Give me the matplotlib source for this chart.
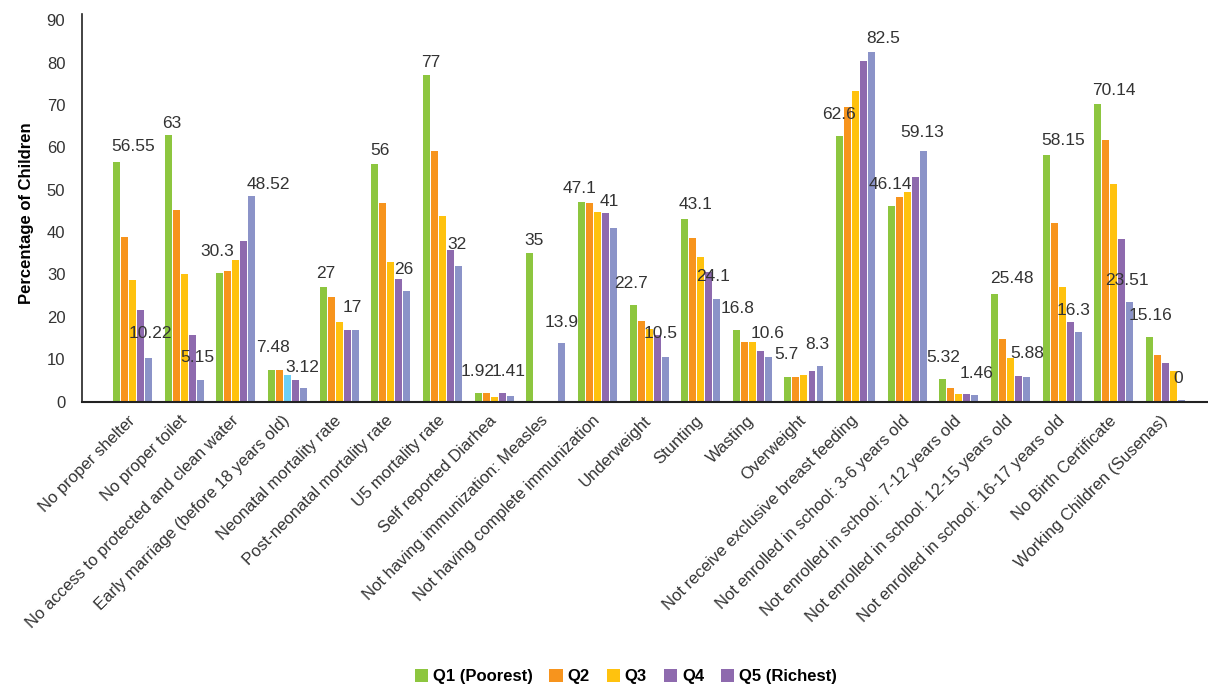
import numpy as np
import matplotlib
matplotlib.use("Agg")
import matplotlib.pyplot as plt
from matplotlib.patches import Patch

plt.rcParams['font.family'] = ['Liberation Sans', 'DejaVu Sans']

cats = ["No proper shelter", "No proper toilet", "No access to protected and clean water",
        "Early marriage (before 18 years old)", "Neonatal mortality rate",
        "Post-neonatal mortality rate", "U5 mortality rate", "Self reported Diarhea",
        "Not having immunization: Measles", "Not having complete immunization",
        "Underweight", "Stunting", "Wasting", "Overweight",
        "Not receive exclusive breast feeding", "Not enrolled in school: 3-6 years old",
        "Not enrolled in school: 7-12 years old", "Not enrolled in school: 12-15 years old",
        "Not enrolled in school: 16-17 years old", "No Birth Certificate",
        "Working Children (Susenas)"]
series = ["Q1 (Poorest)", "Q2", "Q3", "Q4", "Q5 (Richest)"]

nan = np.nan
q1 = [56.55, 63, 30.3, 7.48, 27, 56, 77, 1.92, 35, 47.1, 22.7, 43.1, 16.8, 5.7, 62.6, 46.14, 5.32, 25.48, 58.15, 70.14, 15.16]
q2 = [38.9, 45.1, 30.9, 7.48, 24.7, 46.9, 59.2, 1.92, nan, 46.9, 19.0, 38.7, 14.1, 5.7, 69.6, 48.3, 3.2, 14.8, 42.2, 61.8, 11.0]
q3 = [28.8, 30.1, 33.3, 6.3, 18.8, 33.0, 43.9, 1.06, nan, 44.8, 17.1, 34.2, 14.1, 6.3, 73.4, 49.4, 1.8, 10.3, 27.1, 51.4, 9.1]
q4 = [21.7, 15.6, 37.9, 5.1, 17, 29.0, 35.7, 1.9, nan, 44.6, 15.6, 30.6, 12.0, 7.2, 80.3, 52.9, 1.8, 6.0, 18.8, 38.4, 7.2]
q5 = [10.22, 5.15, 48.52, 3.12, 17, 26, 32, 1.41, 13.9, 41, 10.5, 24.1, 10.6, 8.3, 82.5, 59.13, 1.46, 5.88, 16.3, 23.51, 0.4]
q5_text = {20: "0"}  # label printed on the chart for that bar

colors = ["#8dc63f", "#f7941d", "#ffc20e", "#8e6aae", "#8b93c8"]
# odd bars in the original
odd_color = {(2, 3): "#6dcff6", (2, 20): "#8e6aae", (3, 20): "#ffc20e"}
legend_colors = ["#8dc63f", "#f7941d", "#ffc20e", "#8e6aae", "#8e6aae"]

# label offsets in pixels (dx, dy) from bar top
off1 = [(16.4, 13), (3, 9), (-2.3, 19), (1.7, 20.3), (3, 11), (4.7, 11), (4.7, 10.3), (0, 19.3),
        (4, 10.7), (-2, 11.3), (-2.3, 19.3), (11, 11.7), (1.6, 19.7), (-1.6, 20), (-0.7, 19),
        (-0.6, 18.7), (0, 19.3), (17, 12.7), (16.7, 12), (15.7, 11), (0.7, 19)]
off5 = [(1.7, 22.7), (-3.3, 20), (16, 9.3), (-1.6, 18.3), (-3, 19.7), (-2.7, 19), (-2, 18.7),
        (-1.7, 21.3), (0, 17.3), (-4, 24), (-4, 20.7), (-3.3, 20), (-1, 20.7), (-2.7, 19),
        (12, 11.3), (-1.4, 15.7), (1.6, 19), (1, 21), (-5, 19), (-2.7, 19.3), (-3.7, 18.7)]

data = [q1, q2, q3, q4, q5]
x = np.arange(len(cats))
step = 0.155
w = 0.135

fig = plt.figure(figsize=(12.08, 6.86), dpi=100)
ax = fig.add_axes([0.0679, 0.4147, 0.9311, 0.565])

for i in range(5):
    cs = [odd_color.get((i, j), colors[i]) for j in range(len(cats))]
    ax.bar(x + (i - 2) * step, data[i], width=w, color=cs, linewidth=0)

tc = "#333333"
for j in range(len(cats)):
    for i, vals, offs in ((0, q1, off1), (4, q5, off5)):
        t = "%g" % vals[j]
        if i == 4 and j in q5_text:
            t = q5_text[j]
        dx, dy = offs[j]
        ax.annotate(t, (x[j] + (i - 2) * step, vals[j]),
                    xytext=(dx * 0.72, (dy + 2.5) * 0.72), textcoords="offset points",
                    ha="center", va="center", fontsize=12.5, color=tc)

ax.set_xlim(-0.98, 20.8)
ax.set_ylim(0, 91.5)
ax.set_yticks(np.arange(0, 91, 10))
ax.set_xticks(x)
ax.set_xticklabels(cats, rotation=45, ha="right", va="center", rotation_mode="anchor",
                   fontsize=12, color=tc)
ax.tick_params(axis="x", length=0, pad=12)
ax.tick_params(axis="y", length=0, pad=12, labelsize=12, labelcolor=tc)
for s in ["top", "right"]:
    ax.spines[s].set_visible(False)
ax.spines["left"].set_color("#222222")
ax.spines["bottom"].set_color("#222222")
ax.spines["left"].set_linewidth(1.2)
ax.spines["bottom"].set_linewidth(1.5)

ax.set_ylabel("Percentage of Children", fontsize=12, fontweight="bold", color="black")
ax.yaxis.set_label_coords(-0.043, 0.486)

handles = [Patch(facecolor=c, edgecolor="none") for c in legend_colors]
fig.legend(handles, series, loc="center", bbox_to_anchor=(0.518, 0.0135), ncol=5,
           frameon=False, handlelength=0.8, handleheight=0.8, handletextpad=0.3,
           columnspacing=1.0, prop={"weight": "bold", "size": 12})

plt.savefig("out.png", dpi=100)
